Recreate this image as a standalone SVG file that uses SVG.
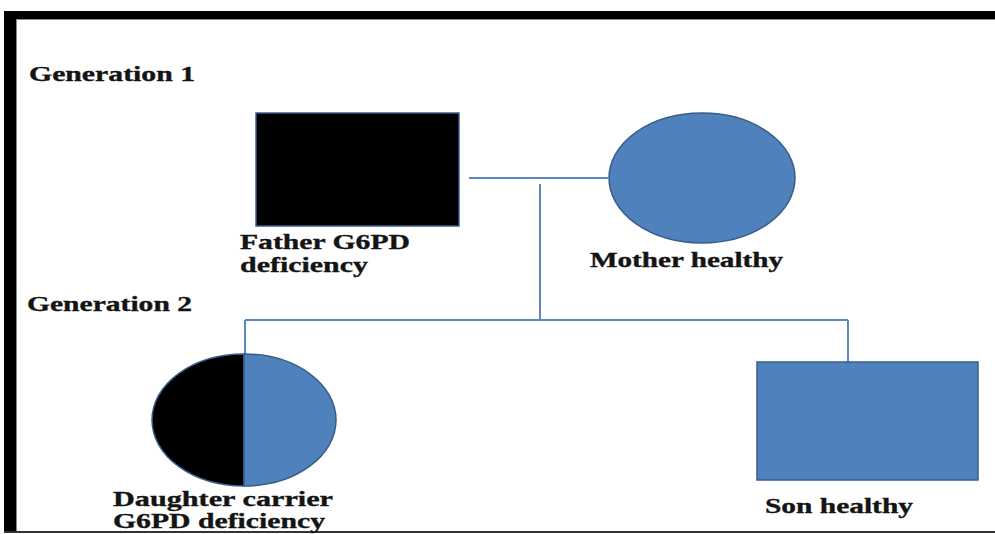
<svg xmlns="http://www.w3.org/2000/svg" width="995" height="534" viewBox="0 0 995 534">
  <style>
    .lbl { font-family: "Liberation Serif", "Times New Roman", serif; font-weight: bold; font-size: 21px; fill: #141414; stroke: #141414; stroke-width: 0.35; }
    .conn { fill: none; stroke: #5b86c0; stroke-width: 2; }
    .blue { fill: #4f81bd; stroke: #385d8a; stroke-width: 1.5; }
    .black { fill: #000; stroke: #385d8a; stroke-width: 1.5; }
  </style>
  <rect x="0" y="0" width="995" height="534" fill="#fff"/>

  <!-- frame -->
  <g id="frame">
    <rect x="4" y="11" width="991" height="8" fill="#000"/>
    <rect x="4" y="11" width="12" height="521" fill="#000"/>
    <path d="M16 19.5 H995 M16.5 19 V531" stroke="#888" stroke-width="1" fill="none"/>
    <rect x="4" y="531" width="991" height="2" fill="#333"/>
  </g>

  <!-- connectors -->
  <g id="connectors">
    <path class="conn" d="M469 178 H608"/>
    <path class="conn" d="M540 184 V320"/>
    <path class="conn" d="M245 320 H848"/>
    <path class="conn" d="M245 320 V354"/>
    <path class="conn" d="M848 320 V362"/>
  </g>

  <g id="generation-labels">
    <text class="lbl" x="29" y="81" textLength="166" lengthAdjust="spacingAndGlyphs">Generation 1</text>
    <text class="lbl" x="27" y="311" textLength="165" lengthAdjust="spacingAndGlyphs">Generation 2</text>
  </g>

  <g id="father">
    <rect class="black" x="256" y="113" width="203" height="113"/>
    <text class="lbl" x="240" y="249" textLength="170" lengthAdjust="spacingAndGlyphs">Father G6PD</text>
    <text class="lbl" x="240" y="272" textLength="128" lengthAdjust="spacingAndGlyphs">deficiency</text>
  </g>

  <g id="mother">
    <ellipse class="blue" cx="702" cy="178" rx="93" ry="65"/>
    <text class="lbl" x="590" y="267" textLength="193" lengthAdjust="spacingAndGlyphs">Mother healthy</text>
  </g>

  <g id="daughter">
    <path class="black" d="M244 354 A92 66 0 0 0 244 486 Z"/>
    <path class="blue" d="M244 354 A92 66 0 0 1 244 486 Z"/>
    <text class="lbl" x="113" y="506" textLength="220" lengthAdjust="spacingAndGlyphs">Daughter carrier</text>
    <text class="lbl" x="113" y="528" textLength="212" lengthAdjust="spacingAndGlyphs">G6PD deficiency</text>
  </g>

  <g id="son">
    <rect class="blue" x="757" y="362" width="221" height="118"/>
    <text class="lbl" x="765" y="513" textLength="148" lengthAdjust="spacingAndGlyphs">Son healthy</text>
  </g>
</svg>
